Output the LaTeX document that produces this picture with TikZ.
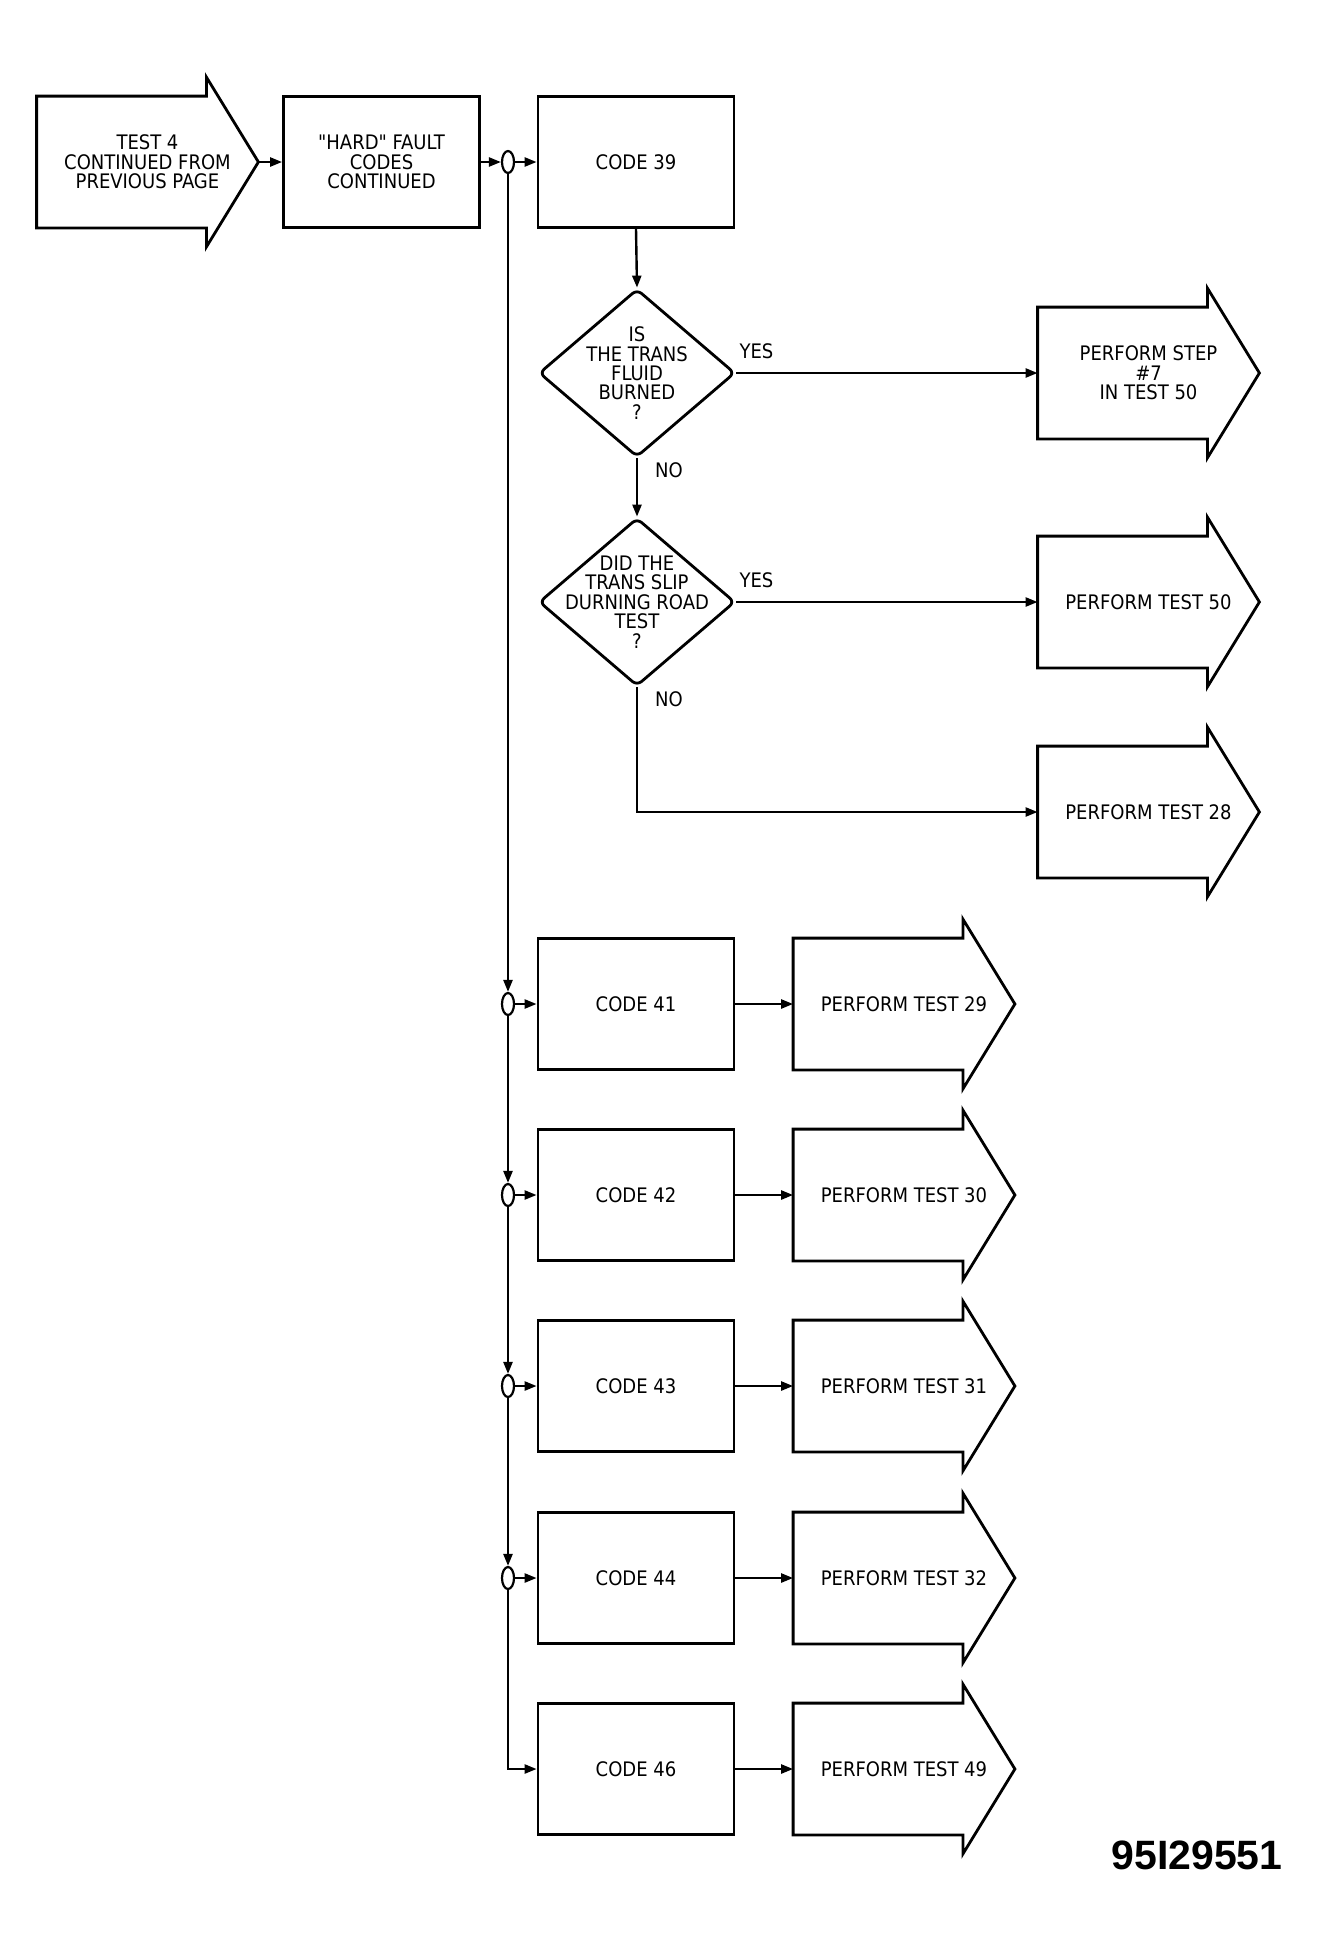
\documentclass[tikz,border=0pt]{standalone}
\usepackage{fontspec}
\usetikzlibrary{arrows.meta,shapes.geometric}
\newfontfamily\plotfont{DejaVu Sans Condensed}
\newfontfamily\tagfont{Liberation Sans}
\tikzset{
  box/.style={draw,line width=1.4pt,minimum width=98pt,minimum height=65.5pt,
              inner sep=2pt,align=center,font=\plotfont\fontsize{10}{9.7}\selectfont},
  goto/.style={minimum width=110.5pt,minimum height=65.5pt,inner sep=2pt,align=center,
               font=\plotfont\fontsize{10}{9.7}\selectfont},
  outl/.style={line width=1.4pt,line join=miter},
  ask/.style={draw,diamond,line width=1.4pt,minimum width=98pt,minimum height=84pt,
              inner sep=0pt,rounded corners=3pt},
  asktxt/.style={align=center,inner sep=0pt,font=\plotfont\fontsize{10}{9.7}\selectfont},
  jn/.style={draw,ellipse,line width=1.1pt,minimum width=6pt,minimum height=11pt,inner sep=0pt},
  ln/.style={-{Triangle[length=6pt,width=4.5pt]},line width=1.2pt},
  lab/.style={font=\plotfont\fontsize{10}{9.7}\selectfont,inner sep=0pt},
  tag/.style={font=\tagfont\bfseries\fontsize{20.5}{24}\selectfont,inner sep=0pt},
}
\begin{document}
\begin{tikzpicture}[x=0.5pt,y=-0.5pt]
  \useasboundingbox (0,0) rectangle (1318,1944);
  % top row
  \node[goto] (t4) at (147.5,162) {TEST 4\\CONTINUED FROM\\PREVIOUS PAGE};
  \node[box] (hard) at (381.5,162) {"HARD" FAULT\\CODES\\CONTINUED};
  \node[jn] (j0) at (508,162) {};
  \node[box] (c39) at (636,162) {CODE 39};
  % questions
  \node[ask] (q1) at (637,373) {};
  \node[asktxt] (q1t) at (q1) {IS\\THE TRANS\\FLUID\\BURNED\\?};
  \node[ask] (q2) at (637,602) {};
  \node[asktxt] (q2t) at (q2) {DID THE\\TRANS SLIP\\DURNING ROAD\\TEST\\?};
  \node[goto] (s7) at (1148.5,373) {PERFORM STEP\\\#7\\IN TEST 50};
  \node[goto] (t50) at (1148.5,602) {PERFORM TEST 50};
  \node[goto] (t28) at (1148.5,812) {PERFORM TEST 28};
  % code column
  \foreach \c/\t/\y in {41/29/1004,42/30/1195,43/31/1386,44/32/1578,46/49/1769}{
    \node[box] (c\c) at (636,\y) {CODE \c};
    \node[goto] (t\t) at (904,\y) {PERFORM TEST \t};
    \draw[ln] (c\c.east) -- (t\t.west);
  }
  \foreach \c/\y [count=\i] in {41/1004,42/1195,43/1386,44/1578}{
    \node[jn] (j\i) at (508,\y) {};
    \draw[ln] (j\i.east) -- (c\c.west);
  }
  % arrow outlines
  \foreach \n in {t4,s7,t50,t28,t29,t30,t31,t32,t49}
    \draw[outl] (\n.north west) -- ([xshift=-26pt]\n.north east)
      -- ([xshift=-26pt,yshift=9.5pt]\n.north east) -- (\n.east)
      -- ([xshift=-26pt,yshift=-9.5pt]\n.south east) -- ([xshift=-26pt]\n.south east)
      -- (\n.south west) -- cycle;
  % links
  \draw[ln] (t4.east) -- (hard.west);
  \draw[ln] (hard.east) -- (j0.west);
  \draw[ln] (j0.east) -- (c39.west);
  \draw[ln] (c39.south) -- (q1.north);
  \draw[ln] (q1.east) -- node[lab,pos=0,anchor=south west,xshift=1pt,yshift=6.5pt]{YES} (s7.west);
  \draw[ln] (q1.south) -- node[lab,pos=0,anchor=north west,xshift=8.5pt,yshift=-1.5pt]{NO} (q2.north);
  \draw[ln] (q2.east) -- node[lab,pos=0,anchor=south west,xshift=1pt,yshift=6.5pt]{YES} (t50.west);
  \draw[ln] (q2.south) |- node[lab,pos=0,anchor=north west,xshift=8.5pt,yshift=-1.5pt]{NO} (t28.west);
  \draw[ln] (j0.south) -- (j1.north);
  \draw[ln] (j1.south) -- (j2.north);
  \draw[ln] (j2.south) -- (j3.north);
  \draw[ln] (j3.south) -- (j4.north);
  \draw[ln] (j4.south) |- (c46.west);
  \node[tag,anchor=base east] (fig) at (1283,1869) {95I29551};
\end{tikzpicture}
\end{document}
